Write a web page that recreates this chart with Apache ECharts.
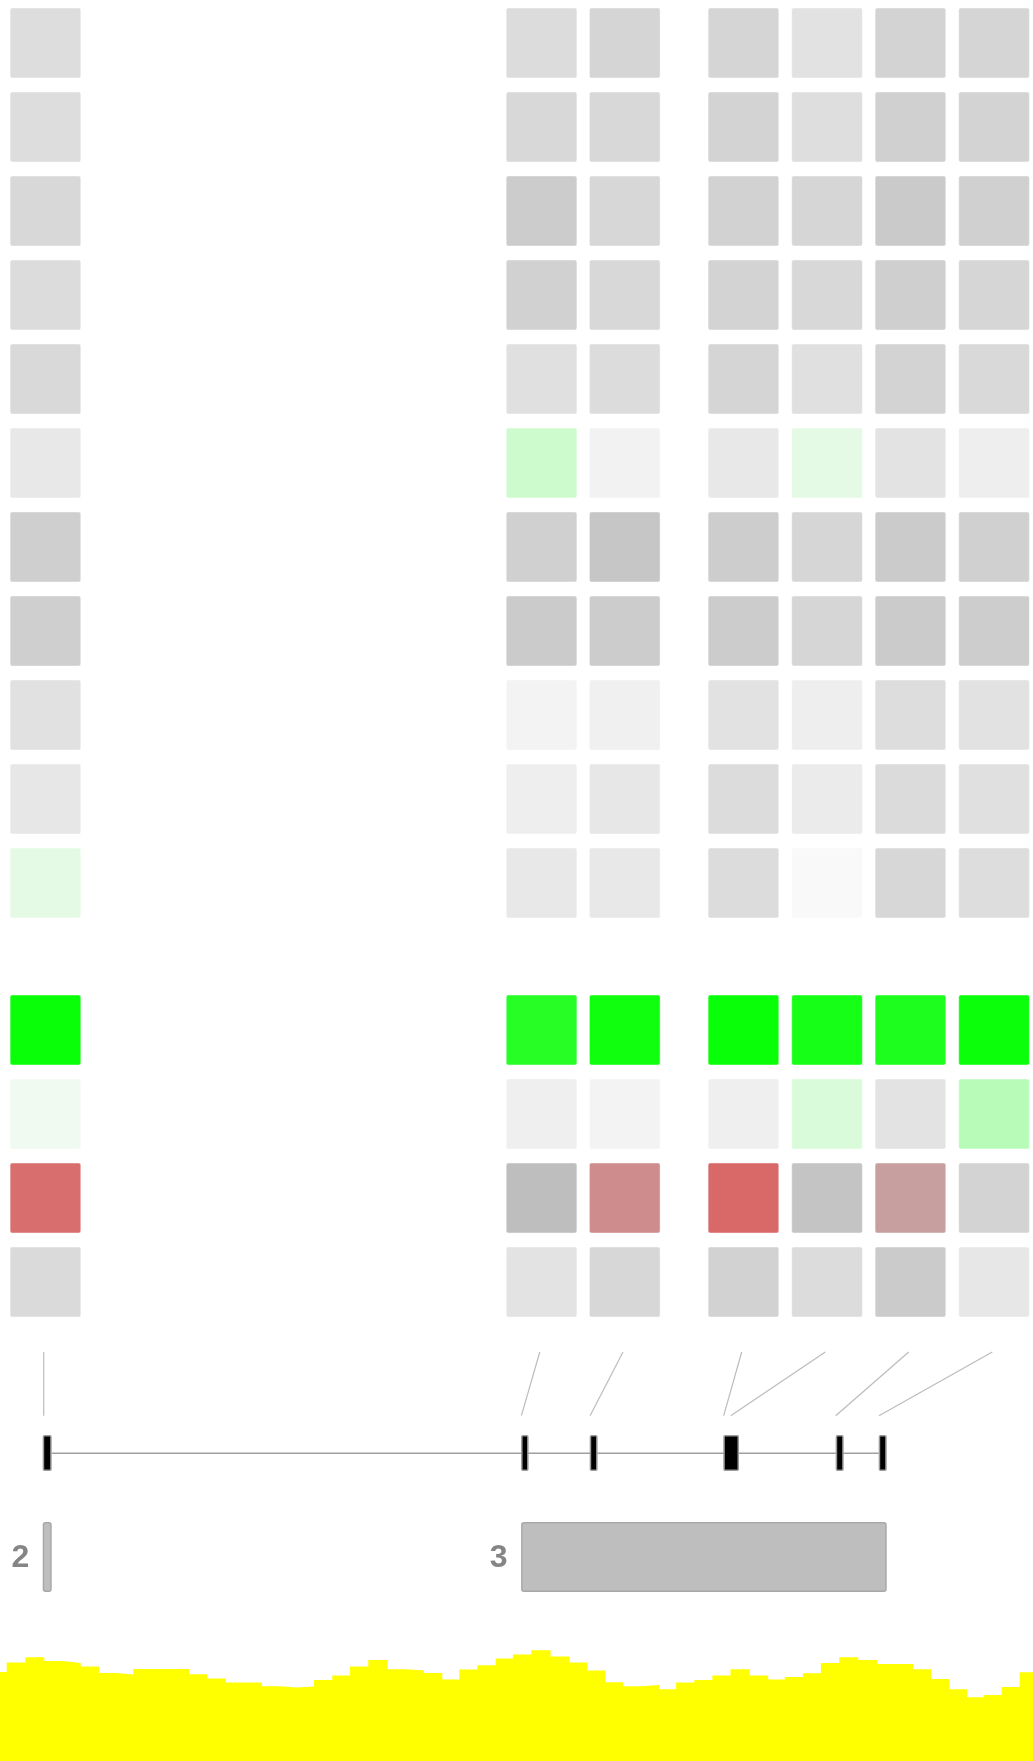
<!DOCTYPE html>
<html>
<head>
<meta charset="utf-8">
<script src="https://cdn.jsdelivr.net/npm/echarts@6/dist/echarts.min.js"></script>
<style>
  html, body { margin: 0; padding: 0; background: #fff; }
  #chart { width: 1033px; height: 1761px; }
</style>
</head>
<body>
<div id="chart"></div>
<script>
// display columns (one per variant) and where each variant sits on the gene
const columnPos = [43.7, 539.8, 623, 741.7, 825.3, 908.7, 992.3];
const variantPos = [43.7, 521.4, 590.1, 723.7, 730.7, 835.7, 879];

// scores, one row per feature, one value per column (-1 red .. 0 grey .. 1 green)
const scoresTop = [
  [0.01, 0.00, -0.08, -0.08, 0.07, -0.10, -0.08],
  [0.01, -0.05, -0.05, -0.10, 0.02, -0.13, -0.10],
  [-0.04, -0.18, -0.06, -0.11, -0.07, -0.20, -0.13],
  [0.00, -0.12, -0.04, -0.10, -0.04, -0.14, -0.07],
  [-0.03, 0.04, 0.00, -0.08, 0.04, -0.10, -0.03],
  [0.13, 0.45, 0.24, 0.13, 0.39, 0.08, 0.20],
  [-0.14, -0.13, -0.24, -0.17, -0.07, -0.19, -0.13],
  [-0.14, -0.19, -0.18, -0.18, -0.07, -0.19, -0.17],
  [0.06, 0.26, 0.22, 0.07, 0.20, 0.01, 0.07],
  [0.12, 0.20, 0.12, 0.00, 0.17, -0.01, 0.04],
  [0.39, 0.13, 0.13, 0.00, 0.32, -0.06, 0.01]
];
const scoresBottom = [
  [0.98, 0.90, 0.96, 0.98, 0.94, 0.92, 0.97],
  [0.36, 0.21, 0.26, 0.21, 0.42, 0.08, 0.51],
  [-0.90, -0.33, -0.69, -0.94, -0.27, -0.55, -0.10],
  [-0.02, 0.08, -0.06, -0.11, 0.00, -0.19, 0.12]
];

// gene model
const exons = [[42.7, 51.7], [521.1, 528.6], [589.7, 597.6], [723.3, 739], [835.7, 843.7], [878.7, 886.7]];
const domains = [[42.7, 51.7, '2'], [521.1, 886.7, '3']];

// coverage, step starts and depth
const coverageX = [0, 6.7, 25.3, 44.3, 62.7, 80.7, 99, 116.7, 133.3, 189,
  207.3, 225.7, 261.7, 280, 296.7, 314, 332.3, 350, 368.3, 387.7,
  406, 424, 442.3, 459.3, 477.3, 495.7, 512.9, 531.3, 550.6, 569.3,
  587.4, 605.4, 623, 641.1, 659.4, 676.1, 694.4, 712.4, 730.5, 749.8,
  768.2, 784.8, 802.9, 820.9, 839.2, 858.3, 877, 913, 931, 949.4,
  967, 984, 1001.7, 1019.7, 1033];
const coverageDepth = [44.5, 49.2, 51.9, 50, 49, 47.2, 44, 43.2, 46, 43.4,
  41.2, 39.2, 37.4, 36.7, 37.2, 40.5, 42.7, 47.2, 50.5, 45.9,
  45.2, 44, 40.7, 45.7, 47.9, 51.2, 53.2, 55.4, 52.2, 49.2,
  45.2, 39.4, 37.4, 38, 35.9, 39.2, 40.5, 42.7, 45.9, 42.7,
  40.7, 42, 43.9, 49, 51.9, 50.5, 48.5, 45.9, 41, 35.9,
  31.9, 33, 37, 44.4, 44.4];

function cells(rows) {
  const out = [];
  rows.forEach((row, r) => row.forEach((v, c) => out.push([columnPos[c], r, v])));
  return out;
}
function rowNames(n) {
  return Array.from({ length: n }, (_, i) => 'r' + i);
}

function renderCell(params, api) {
  const c = api.coord([api.value(0), api.value(1)]);
  return {
    type: 'rect',
    shape: { x: c[0] - 33.6, y: c[1] - 35, width: 70.7, height: 70, r: 2 },
    style: { fill: api.visual('color'), stroke: 'rgba(255,255,255,0.45)', lineWidth: 1 }
  };
}

const chart = echarts.init(document.getElementById('chart'));
const xCommon = { type: 'value', min: 0, max: 1033, show: false };

chart.setOption({
  animation: false,
  backgroundColor: '#ffffff',
  grid: [
    { left: 0, right: 0, top: 1, height: 924 },
    { left: 0, right: 0, top: 988, height: 336 },
    { left: 0, right: 0, top: 1340, height: 260 },
    { left: 0, right: 0, top: 1641, height: 120 }
  ],
  xAxis: [
    Object.assign({ gridIndex: 0 }, xCommon),
    Object.assign({ gridIndex: 1 }, xCommon),
    Object.assign({ gridIndex: 2 }, xCommon),
    Object.assign({ gridIndex: 3 }, xCommon)
  ],
  yAxis: [
    { gridIndex: 0, type: 'category', data: rowNames(11), inverse: true, show: false },
    { gridIndex: 1, type: 'category', data: rowNames(4), inverse: true, show: false },
    { gridIndex: 2, type: 'value', min: 0, max: 1, show: false },
    { gridIndex: 3, type: 'value', min: 0, max: 60, show: false }
  ],
  visualMap: {
    type: 'continuous', show: false, min: -1, max: 1, dimension: 2,
    seriesIndex: [0, 1],
    inRange: { color: ['#dc6060', '#bebebe', '#fafafa', '#00ff00'] }
  },
  series: [
    { type: 'custom', xAxisIndex: 0, yAxisIndex: 0, data: cells(scoresTop), renderItem: renderCell },
    { type: 'custom', xAxisIndex: 1, yAxisIndex: 1, data: cells(scoresBottom), renderItem: renderCell },
    {
      // connectors from columns down to variant positions
      type: 'custom', xAxisIndex: 2, yAxisIndex: 2,
      data: columnPos.map((p, i) => [p, variantPos[i]]),
      renderItem: function (params, api) {
        const top = params.coordSys.y;
        const x1 = api.coord([api.value(0), 0])[0];
        const x2 = api.coord([api.value(1), 0])[0];
        return {
          type: 'line',
          shape: { x1: x1, y1: top + 12, x2: x2, y2: top + 75.7 },
          style: { stroke: '#bcbcbc', lineWidth: 1.2 }
        };
      }
    },
    {
      // intron backbone
      type: 'custom', xAxisIndex: 2, yAxisIndex: 2,
      data: [[exons[0][1], exons[exons.length - 1][0]]],
      renderItem: function (params, api) {
        const top = params.coordSys.y;
        const x1 = api.coord([api.value(0), 0])[0];
        const x2 = api.coord([api.value(1), 0])[0];
        return {
          type: 'line',
          shape: { x1: x1, y1: top + 113.3, x2: x2, y2: top + 113.3 },
          style: { stroke: '#a0a0a0', lineWidth: 1.5 }
        };
      }
    },
    {
      // exons
      type: 'custom', xAxisIndex: 2, yAxisIndex: 2,
      data: exons,
      renderItem: function (params, api) {
        const top = params.coordSys.y;
        const x1 = api.coord([api.value(0), 0])[0];
        const x2 = api.coord([api.value(1), 0])[0];
        return {
          type: 'rect',
          shape: { x: x1 + 0.75, y: top + 95.75, width: x2 - x1 - 1.5, height: 34.5, r: 1 },
          style: { fill: '#000000', stroke: '#9a9a9a', lineWidth: 1.5 }
        };
      }
    },
    {
      // domains with numbers
      type: 'custom', xAxisIndex: 2, yAxisIndex: 2,
      data: domains,
      dimensions: ['start', 'end', { name: 'label', type: 'ordinal' }],
      renderItem: function (params, api) {
        const top = params.coordSys.y;
        const x1 = api.coord([api.value(0), 0])[0];
        const x2 = api.coord([api.value(1), 0])[0];
        const label = domains[params.dataIndex][2];
        return {
          type: 'group',
          children: [
            {
              type: 'rect',
              shape: { x: x1 + 0.75, y: top + 182.75, width: x2 - x1 - 1.5, height: 68.5, r: 2 },
              style: { fill: '#bebebe', stroke: '#a8a8a8', lineWidth: 1.5 }
            },
            {
              type: 'text',
              style: {
                text: label, x: x1 - 13.5, y: top + 218.5,
                fill: '#858585', font: 'bold 32px "Liberation Sans", Arial, sans-serif',
                align: 'right', verticalAlign: 'middle'
              }
            }
          ]
        };
      }
    },
    {
      type: 'line', xAxisIndex: 3, yAxisIndex: 3,
      step: 'end', symbol: 'none',
      data: coverageX.map((x, i) => [x, coverageDepth[i]]),
      lineStyle: { color: '#ffff00', width: 0 },
      areaStyle: { color: '#ffff00', opacity: 1 }
    }
  ]
});
</script>
</body>
</html>
